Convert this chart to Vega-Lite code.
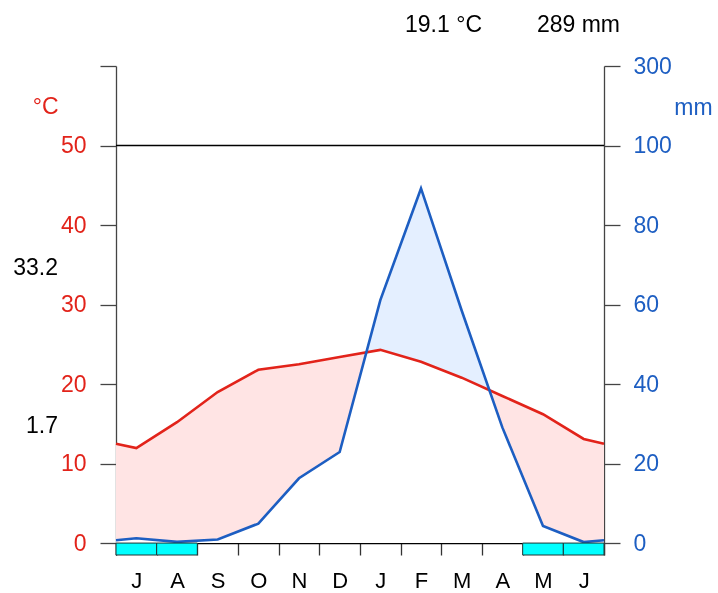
{
  "$schema": "https://vega.github.io/schema/vega-lite/v6.json",
  "width": 488,
  "height": 489,
  "autosize": "none",
  "padding": {"left": 116, "top": 66, "right": 114, "bottom": 38},
  "background": "white",
  "config": {
    "view": {"stroke": null},
    "font": "Liberation Sans",
    "axis": {"grid": false, "labelFlush": false, "labelOverlap": false, "zindex": 1}
  },
  "datasets": {
    "clim": [
      {"mon": "edge", "i": 0.5, "t": 12.5, "p": 0.7},
      {"mon": "Jul", "i": 1, "t": 11.95, "p": 1.2},
      {"mon": "Aug", "i": 2, "t": 15.2, "p": 0.3},
      {"mon": "Sep", "i": 3, "t": 19.0, "p": 0.9},
      {"mon": "Oct", "i": 4, "t": 21.8, "p": 4.9},
      {"mon": "Nov", "i": 5, "t": 22.5, "p": 16.3},
      {"mon": "Dec", "i": 6, "t": 23.4, "p": 22.9},
      {"mon": "Jan", "i": 7, "t": 24.3, "p": 61.1},
      {"mon": "Feb", "i": 8, "t": 22.8, "p": 89.2},
      {"mon": "Mar", "i": 9, "t": 20.8, "p": 58.5},
      {"mon": "Apr", "i": 10, "t": 18.5, "p": 29.1},
      {"mon": "May", "i": 11, "t": 16.2, "p": 4.3},
      {"mon": "Jun", "i": 12, "t": 13.1, "p": 0.25},
      {"mon": "edge", "i": 12.5, "t": 12.5, "p": 0.7}
    ],
    "months": [
      {"mon": "Jul", "frost": true},
      {"mon": "Aug", "frost": true},
      {"mon": "Sep", "frost": false},
      {"mon": "Oct", "frost": false},
      {"mon": "Nov", "frost": false},
      {"mon": "Dec", "frost": false},
      {"mon": "Jan", "frost": false},
      {"mon": "Feb", "frost": false},
      {"mon": "Mar", "frost": false},
      {"mon": "Apr", "frost": false},
      {"mon": "May", "frost": true},
      {"mon": "Jun", "frost": true}
    ]
  },
  "resolve": {
    "scale": {"x": "independent", "y": "independent"},
    "axis": {"x": "independent", "y": "independent"}
  },
  "layer": [
    {
      "data": {"name": "clim"},
      "mark": {"type": "area", "fill": "#c4ffff", "opacity": 1},
      "encoding": {
        "x": {"field": "i", "type": "quantitative", "scale": {"domain": [0.5, 12.5], "nice": false, "zero": false}, "axis": null},
        "y": {"field": "p", "type": "quantitative", "scale": {"domain": [-3, 120], "nice": false, "zero": false}, "axis": null},
        "y2": {"datum": 0}
      }
    },
    {
      "data": {"name": "clim"},
      "mark": {"type": "area", "fill": "#ffe4e4", "opacity": 1},
      "encoding": {
        "x": {"field": "i", "type": "quantitative", "scale": {"domain": [0.5, 12.5], "nice": false, "zero": false}, "axis": null},
        "y": {"field": "t", "type": "quantitative", "scale": {"domain": [-1.5, 60], "nice": false, "zero": false}, "axis": null},
        "y2": {"datum": 0}
      }
    },
    {
      "data": {"name": "clim"},
      "mark": {"type": "area", "fill": "#00ffff", "opacity": 1, "blend": "lighten"},
      "encoding": {
        "x": {"field": "i", "type": "quantitative", "scale": {"domain": [0.5, 12.5], "nice": false, "zero": false}, "axis": null},
        "y": {"field": "p", "type": "quantitative", "scale": {"domain": [-3, 120], "nice": false, "zero": false}, "axis": null},
        "y2": {"datum": 0}
      }
    },
    {
      "data": {"name": "clim"},
      "mark": {"type": "area", "fill": "#1f5fbf", "opacity": 1, "blend": "hue"},
      "encoding": {
        "x": {"field": "i", "type": "quantitative", "scale": {"domain": [0.5, 12.5], "nice": false, "zero": false}, "axis": null},
        "y": {"field": "p", "type": "quantitative", "scale": {"domain": [-3, 120], "nice": false, "zero": false}, "axis": null},
        "y2": {"datum": 0}
      }
    },
    {
      "data": {"values": [{}]},
      "mark": {"type": "rule", "color": "black", "strokeWidth": 1.3},
      "encoding": {
        "y": {"datum": 50, "type": "quantitative", "scale": {"domain": [-1.5, 60], "nice": false, "zero": false}, "axis": null}
      }
    },
    {
      "data": {"name": "clim"},
      "mark": {"type": "line", "color": "#e2231a", "strokeWidth": 2.6},
      "encoding": {
        "x": {"field": "i", "type": "quantitative", "scale": {"domain": [0.5, 12.5], "nice": false, "zero": false}, "axis": null},
        "y": {
          "field": "t", "type": "quantitative",
          "scale": {"domain": [-1.5, 60], "nice": false, "zero": false},
          "axis": {
            "orient": "left", "values": [0, 10, 20, 30, 40, 50, 60],
            "labelExpr": "datum.value == 60 ? '' : datum.label",
            "tickSize": 16, "labelPadding": 14, "labelFontSize": 23, "labelColor": "#e2231a",
            "domainColor": "#444", "tickColor": "#444", "domainWidth": 1.3, "tickWidth": 1.3,
            "title": "°C", "titleAngle": 0, "titleX": -58, "titleY": 40, "titleAlign": "right",
            "titleBaseline": "middle", "titleFontSize": 23, "titleFontWeight": "normal", "titleColor": "#e2231a"
          }
        }
      }
    },
    {
      "data": {"name": "clim"},
      "mark": {"type": "line", "color": "#1d5ec2", "strokeWidth": 2.6},
      "encoding": {
        "x": {"field": "i", "type": "quantitative", "scale": {"domain": [0.5, 12.5], "nice": false, "zero": false}, "axis": null},
        "y": {
          "field": "p", "type": "quantitative",
          "scale": {"domain": [-3, 120], "nice": false, "zero": false},
          "axis": {
            "orient": "right", "values": [0, 20, 40, 60, 80, 100, 120],
            "labelExpr": "datum.value == 120 ? '300' : datum.label",
            "tickSize": 16, "labelPadding": 13, "labelFontSize": 23, "labelColor": "#1d5ec2",
            "domainColor": "#444", "tickColor": "#444", "domainWidth": 1.3, "tickWidth": 1.3,
            "title": "mm", "titleAngle": 0, "titleX": 89, "titleY": 41, "titleAlign": "center",
            "titleBaseline": "middle", "titleFontSize": 23, "titleFontWeight": "normal", "titleColor": "#1d5ec2"
          }
        }
      }
    },
    {
      "data": {"name": "months"},
      "transform": [{"filter": "datum.frost"}],
      "mark": {"type": "bar", "fill": "#00ffff", "stroke": "#223333", "strokeWidth": 1},
      "encoding": {
        "x": {
          "field": "mon", "type": "ordinal",
          "scale": {"type": "band", "domain": ["Jul", "Aug", "Sep", "Oct", "Nov", "Dec", "Jan", "Feb", "Mar", "Apr", "May", "Jun"], "paddingInner": 0, "paddingOuter": 0},
          "axis": {
            "orient": "bottom", "offset": -12, "tickBand": "extent", "tickSize": 12,
            "labelExpr": "substring(datum.label, 0, 1)", "labelAngle": 0, "labelFontSize": 22,
            "labelColor": "black", "labelPadding": 15, "domainColor": "black", "domainWidth": 1.3,
            "tickColor": "#333", "tickWidth": 1.3, "title": null
          }
        },
        "y": {"datum": 0, "type": "quantitative", "scale": {"domain": [-1.5, 60], "nice": false, "zero": false}, "axis": null},
        "y2": {"datum": -1.5}
      }
    },
    {
      "data": {"values": [{}]},
      "mark": {"type": "text", "text": "33.2", "align": "right", "baseline": "middle", "fontSize": 23, "color": "black"},
      "encoding": {
        "x": {"datum": -0.926, "type": "quantitative", "scale": {"domain": [0.5, 12.5], "nice": false, "zero": false}, "axis": null},
        "y": {"datum": 34.6, "type": "quantitative", "scale": {"domain": [-1.5, 60], "nice": false, "zero": false}, "axis": null}
      }
    },
    {
      "data": {"values": [{}]},
      "mark": {"type": "text", "text": "1.7", "align": "right", "baseline": "middle", "fontSize": 23, "color": "black"},
      "encoding": {
        "x": {"datum": -0.926, "type": "quantitative", "scale": {"domain": [0.5, 12.5], "nice": false, "zero": false}, "axis": null},
        "y": {"datum": 14.72, "type": "quantitative", "scale": {"domain": [-1.5, 60], "nice": false, "zero": false}, "axis": null}
      }
    },
    {
      "data": {"values": [{}]},
      "mark": {"type": "text", "text": "19.1 °C", "align": "right", "baseline": "middle", "fontSize": 23, "color": "black"},
      "encoding": {
        "x": {"datum": 9.5, "type": "quantitative", "scale": {"domain": [0.5, 12.5], "nice": false, "zero": false}, "axis": null},
        "y": {"datum": 65.16, "type": "quantitative", "scale": {"domain": [-1.5, 60], "nice": false, "zero": false}, "axis": null}
      }
    },
    {
      "data": {"values": [{}]},
      "mark": {"type": "text", "text": "289 mm", "align": "right", "baseline": "middle", "fontSize": 23, "color": "black"},
      "encoding": {
        "x": {"datum": 12.893, "type": "quantitative", "scale": {"domain": [0.5, 12.5], "nice": false, "zero": false}, "axis": null},
        "y": {"datum": 65.16, "type": "quantitative", "scale": {"domain": [-1.5, 60], "nice": false, "zero": false}, "axis": null}
      }
    }
  ]
}
